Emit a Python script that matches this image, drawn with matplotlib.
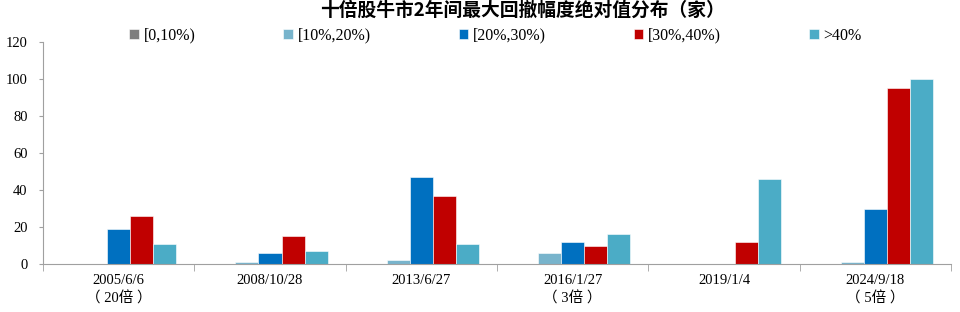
import matplotlib
matplotlib.use("Agg")
import matplotlib.pyplot as plt
import numpy as np

plt.rcParams['font.family'] = ['Liberation Serif', 'Noto Sans CJK SC', 'DejaVu Sans']

categories = ["2005/6/6\n（ 20倍 ）", "2008/10/28", "2013/6/27", "2016/1/27\n（ 3倍 ）", "2019/1/4", "2024/9/18\n（ 5倍 ）"]
series_names = ["[0,10%)", "[10%,20%)", "[20%,30%)", "[30%,40%)", ">40%"]
s0_10 = [0, 0, 0, 0, 0, 0]
s10_20 = [0, 1, 2, 6, 0, 1]
s20_30 = [19, 6, 47, 12, 0, 30]
s30_40 = [26, 15, 37, 10, 12, 95]
s40 = [11, 7, 11, 16, 46, 100]
series = [s0_10, s10_20, s20_30, s30_40, s40]
colors = ["#7f7f7f", "#78b4cc", "#0070c0", "#c00000", "#4bacc6"]

fig = plt.figure(figsize=(9.6, 3.12), dpi=100)
ax = fig.add_axes([0.0448, 0.1538, 0.9458, 0.7116])

x = np.arange(len(categories))
w = 0.152
for i, (vals, c, name) in enumerate(zip(series, colors, series_names)):
    ax.bar(x + (i - 2) * w, vals, width=w, color=c, label=name, edgecolor='white', linewidth=0.4)

ax.set_xlim(-0.5, len(categories) - 0.5)
ax.set_ylim(0, 120)
ax.set_yticks(range(0, 121, 20))
ax.tick_params(axis='y', length=3, color='#a0a0a0', labelsize=10.5, pad=8)
ax.set_xticks(x)
ax.set_xticklabels(categories, fontsize=10.5, linespacing=1.45)
ax.set_xticks(np.arange(-0.5, len(categories), 1), minor=True)
ax.tick_params(axis='x', which='major', length=0, pad=7)
ax.tick_params(axis='x', which='minor', length=5, color='#a0a0a0')
for s in ['top', 'right']:
    ax.spines[s].set_visible(False)
for s in ['left', 'bottom']:
    ax.spines[s].set_color('#a0a0a0')

fig.text(0.544, 0.968, "十倍股牛市2年间最大回撤幅度绝对值分布（家）", ha='center', va='center',
         fontsize=13.5, fontweight='bold', family=['Noto Sans CJK SC'])
fig.legend(loc='center', bbox_to_anchor=(0.516, 0.885), ncol=5, frameon=False, fontsize=11.5,
           handlelength=0.6, handleheight=0.6, handletextpad=0.3, columnspacing=5.5)

fig.savefig("out.png", dpi=100)
